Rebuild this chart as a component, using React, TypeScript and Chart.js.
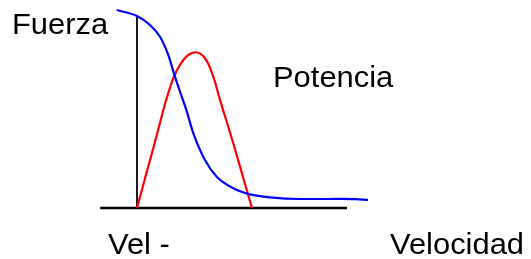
import React, { useEffect, useRef } from "react";
import Chart from "chart.js/auto";

// Fuerza (blue) curve: velocity vs force
const forceVelocity = [-1.77, 0, 1.13, 2.0, 2.72, 3.3, 3.89, 4.26, 4.9, 5.91, 6.93, 8.37, 9.83, 11.57, 14.17, 16.5, 17.9, 19.0, 20.09];
const forceValues = [10.31, 10.0, 9.53, 8.92, 7.97, 6.84, 5.8, 5.16, 3.89, 2.5, 1.63, 1.03, 0.71, 0.55, 0.47, 0.47, 0.48, 0.46, 0.42];

// Potencia (red) curve: velocity vs power
const powerVelocity = [0, 1.5, 3.0, 4.03, 5.04, 5.91, 6.63, 7.22, 8.37, 9.54, 10.0];
const powerValues = [0, 3.3, 6.5, 7.71, 8.11, 7.8, 6.84, 5.63, 3.37, 0.94, 0];

// Axis lines
const hAxisVelocity = [-3.2, 18.26];
const hAxisValues = [0, 0];
const vAxisVelocity = [0, 0];
const vAxisValues = [0, 10.0];

const labels = [
  { text: "Fuerza", left: 12, top: 9.1 },
  { text: "Potencia", left: 273, top: 62.1 },
  { text: "Vel -", left: 108, top: 228.6 },
  { text: "Velocidad", left: 390, top: 228.6 },
];

function pts(xs: number[], ys: number[]) {
  return xs.map((x, i) => ({ x, y: ys[i] }));
}

export default function App() {
  const ref = useRef<HTMLCanvasElement | null>(null);
  useEffect(() => {
    if (!ref.current) return;
    const chart = new Chart(ref.current, {
      type: "scatter",
      data: {
        datasets: [
          {
            data: pts(forceVelocity, forceValues),
            borderColor: "#0000FF",
            borderWidth: 2.2,
            showLine: true,
            pointRadius: 0,
            cubicInterpolationMode: "monotone",
            clip: false,
          } as any,
          {
            data: pts(powerVelocity, powerValues),
            borderColor: "#FF0000",
            borderWidth: 2.2,
            showLine: true,
            pointRadius: 0,
            tension: 0.4,
            clip: false,
          } as any,
          {
            data: pts(vAxisVelocity, vAxisValues),
            borderColor: "#1a1a1a",
            borderWidth: 2,
            showLine: true,
            pointRadius: 0,
            clip: false,
          } as any,
          {
            data: pts(hAxisVelocity, hAxisValues),
            borderColor: "#000000",
            borderWidth: 2.5,
            showLine: true,
            pointRadius: 0,
            clip: false,
          } as any,
        ],
      },
      options: {
        animation: false,
        responsive: true,
        maintainAspectRatio: false,
        layout: { padding: { left: 91, right: 152.5, top: 6.4, bottom: 51 } },
        plugins: { legend: { display: false }, tooltip: { enabled: false } },
        scales: {
          x: { type: "linear", min: -4, max: 21, display: false },
          y: { type: "linear", min: 0, max: 10.5, display: false },
        },
      },
    });
    return () => chart.destroy();
  }, []);

  return (
    <div style={{ position: "absolute", left: 0, top: 0, width: 531, height: 259, background: "#fff" }}>
      <canvas ref={ref} />
      {labels.map((l) => (
        <span
          key={l.text}
          style={{
            position: "absolute",
            left: l.left,
            top: l.top,
            fontFamily: "'Liberation Sans', Arial, sans-serif",
            fontSize: 30,
            lineHeight: "30px",
            color: "#000",
            whiteSpace: "nowrap",
            transform: "scaleX(1.03)",
            transformOrigin: "left top",
          }}
        >
          {l.text}
        </span>
      ))}
    </div>
  );
}
